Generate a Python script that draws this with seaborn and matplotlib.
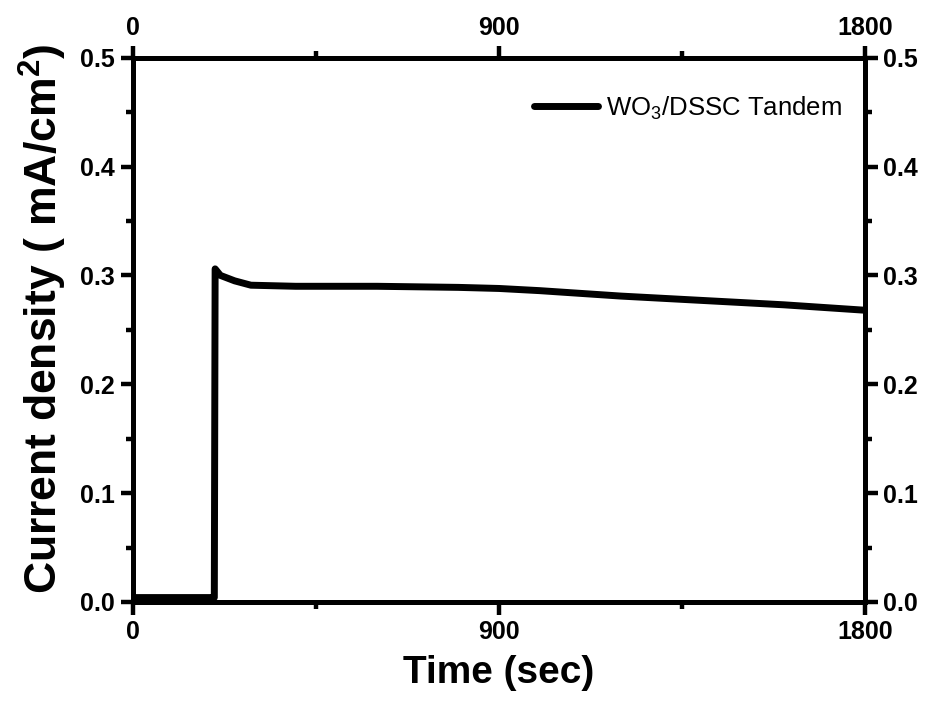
import matplotlib
matplotlib.use("Agg")
import matplotlib.pyplot as plt
import seaborn as sns
import pandas as pd
from matplotlib.ticker import MultipleLocator, FormatStrFormatter

sns.set_style("ticks")
plt.rcParams['font.family'] = ['Liberation Sans', 'DejaVu Sans']
plt.rcParams.update({
    'text.color': 'black', 'axes.labelcolor': 'black',
    'xtick.color': 'black', 'ytick.color': 'black',
    'mathtext.fontset': 'custom', 'mathtext.rm': 'Liberation Sans',
    'mathtext.it': 'Liberation Sans:italic', 'mathtext.bf': 'Liberation Sans:bold',
})

time_s = [0, 100, 198, 200, 202, 215, 250, 290, 400, 600, 800, 900, 1000, 1200, 1400, 1600, 1800]
current = [0.004, 0.004, 0.004, 0.004, 0.306, 0.300, 0.295, 0.291, 0.290, 0.290, 0.289, 0.288,
           0.286, 0.281, 0.277, 0.273, 0.268]
series_label = "WO$_3$/DSSC Tandem"

df = pd.DataFrame({"Time": time_s, "Current": current, "Series": series_label})

fig = plt.figure(figsize=(9.3, 7.04), dpi=100)
ax = fig.add_axes([0.143, 0.145, 0.787, 0.773])

sns.lineplot(data=df, x="Time", y="Current", hue="Series", palette=["black"],
             linewidth=5, ax=ax, sort=False)

ax.set_xlim(0, 1800)
ax.set_ylim(0, 0.5)
ax.xaxis.set_major_locator(MultipleLocator(900))
ax.xaxis.set_minor_locator(MultipleLocator(450))
ax.yaxis.set_major_locator(MultipleLocator(0.1))
ax.yaxis.set_minor_locator(MultipleLocator(0.05))
ax.yaxis.set_major_formatter(FormatStrFormatter('%.1f'))

for s in ax.spines.values():
    s.set_visible(True)
    s.set_linewidth(3.6)
    s.set_color('black')

ax.tick_params(which='both', direction='out', top=True, right=True,
               labeltop=True, labelright=True, width=3.2, color='black')
ax.tick_params(which='major', length=9, labelsize=18, pad=4)
ax.tick_params(which='minor', length=5)
for t in ax.xaxis.get_major_ticks() + ax.yaxis.get_major_ticks():
    t.label1.set_fontweight('bold')
    t.label2.set_fontweight('bold')

ax.set_xlabel("Time (sec)", fontsize=28, fontweight='bold', labelpad=8)
ax.set_ylabel("Current density ( mA/cm$^\\mathbf{2}$)", fontsize=32, fontweight='bold')
ax.yaxis.set_label_coords(-0.088, 0.52)

leg = ax.legend(loc='upper right', frameon=False, fontsize=18.5, handlelength=2.5,
                handletextpad=0.3, borderaxespad=0.5, bbox_to_anchor=(1.0, 0.975))
for line in leg.get_lines():
    line.set_linewidth(5)

fig.savefig("out.png", dpi=100)
